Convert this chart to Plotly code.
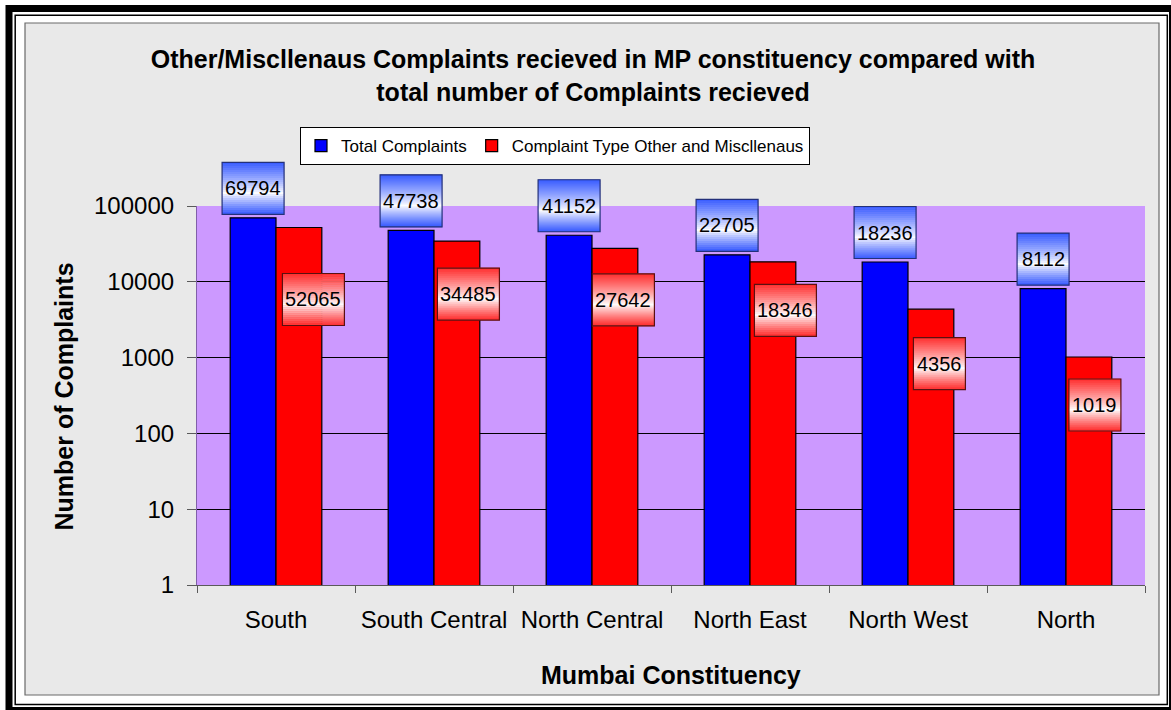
"""
Mumbai MP constituency complaints chart (log scale), Excel-style look.
"""
import math
import plotly.graph_objects as go

CATEGORIES = ["South", "South Central", "North Central", "North East", "North West", "North"]
TOTAL = [69794, 47738, 41152, 22705, 18236, 8112]
OTHER = [52065, 34485, 27642, 18346, 4356, 1019]
Y_TICKS = [1, 10, 100, 1000, 10000, 100000]
Y_RANGE = (0, 5)   # log10 decades

TITLE = ("<b>Other/Miscllenaus Complaints recieved in MP constituency compared with"
         "<br>total number of Complaints recieved</b>")
X_TITLE = "Mumbai Constituency"
Y_TITLE = "Number of Complaints"
NAMES = ["Total Complaints", "Complaint Type Other and Miscllenaus"]

# label nudges (px) for the red labels, as they were dragged in the original
RED_DX = [14.5, 11.5, 8.5, 12.5, 8.5, 6]
RED_DY = [72, 53, 51.5, 48.5, 54.5, 48]

BLUE = "#0000FF"
RED = "#FF0000"
PLOT_BG = "#CC99FF"
PAPER_TEX = "#E9E9E9"
FONT = "Liberation Sans, Arial, sans-serif"

W, H = 1171, 710
L, R, T, B = 197, 1145, 206, 585   # plot area in px


def px(x, y):
    return (x - L) / (R - L), (B - y) / (B - T)


def log_frac(v):
    return (math.log10(v) - Y_RANGE[0]) / (Y_RANGE[1] - Y_RANGE[0])


def mix(c, k):
    return "rgb(%d,%d,%d)" % tuple(round(255 + (v - 255) * k) for v in c)


def grad_box(shapes, xa, ya, x0, x1, y0, y1, base, border, mid=0.6, n=26):
    h = (y1 - y0) / n
    common = dict(type="rect", xref="x", yref="paper", xsizemode="pixel", ysizemode="pixel",
                  xanchor=xa, yanchor=ya, x0=x0, x1=x1)
    for i in range(n):
        t = (i + 0.5) / n
        k = (mid - t) / mid if t < mid else (t - mid) / (1 - mid)
        k = min(1.0, k ** 0.85)
        shapes.append(dict(common, y0=y1 - (i + 1) * h - 0.3, y1=y1 - i * h + 0.3,
                           fillcolor=mix(base, k), line_width=0))
    shapes.append(dict(common, y0=y0, y1=y1, fillcolor="rgba(0,0,0,0)",
                       line=dict(color=border, width=1.2)))


fig = go.Figure()
fig.add_trace(go.Bar(
    name=NAMES[0], x=CATEGORIES, y=TOTAL,
    marker=dict(color=BLUE, line=dict(color="black", width=1.2)),
))
fig.add_trace(go.Bar(
    name=NAMES[1], x=CATEGORIES, y=OTHER,
    marker=dict(color=RED, line=dict(color="black", width=1.2)),
))

shapes = []
# frame and textured panel (paper refs, drawn below everything)
x0, y0 = px(9, 8.5); x1, y1 = px(1172.5, 710.5)
shapes.append(dict(type="rect", xref="paper", yref="paper", x0=x0, y0=y0, x1=x1, y1=y1,
                   line=dict(color="black", width=7), layer="below"))
x0, y0 = px(15.2, 15.3); x1, y1 = px(1167.3, 704.5)
shapes.append(dict(type="rect", xref="paper", yref="paper", x0=x0, y0=y0, x1=x1, y1=y1,
                   line=dict(color="black", width=1.5), layer="below"))
x0, y0 = px(25, 23); x1, y1 = px(1159, 695)
shapes.append(dict(type="rect", xref="paper", yref="paper", x0=x0, y0=y0, x1=x1, y1=y1,
                   fillcolor=PAPER_TEX, line=dict(color="#6A6A6A", width=1.2), layer="below"))
shapes.append(dict(type="rect", xref="paper", yref="paper", x0=0, y0=0, x1=1, y1=1,
                   fillcolor=PLOT_BG, line_width=0, layer="below"))

annotations = []
half = 0.145
for i, (tot, oth) in enumerate(zip(TOTAL, OTHER)):
    for val, off, base, border, dx, dy in (
        (tot, -half, (55, 90, 255), "#23307A", 0, -29.5),
        (oth, half, (255, 45, 45), "#5A1010", RED_DX[i], RED_DY[i]),
    ):
        txt = str(val)
        w = 12 + 10 * len(txt)
        grad_box(shapes, i + off, log_frac(val), dx - w / 2, dx + w / 2, -dy - 26, -dy + 26,
                 base, border)
        annotations.append(dict(
            x=i + off, y=math.log10(val), xref="x", yref="y", text=txt, showarrow=False,
            xshift=dx, yshift=-dy, font=dict(size=20, color="black", family=FONT),
        ))

annotations.append(dict(
    text=f"<b>{Y_TITLE}</b>", textangle=-90, showarrow=False,
    xref="paper", yref="paper", x=px(63, 0)[0], y=px(0, 396.5)[1],
    xanchor="center", yanchor="middle",
    font=dict(size=25, color="black", family=FONT),
))
annotations.append(dict(
    text=f"<b>{X_TITLE}</b>", showarrow=False,
    xref="paper", yref="paper", x=px(670.5, 0)[0], y=px(0, 675)[1],
    xanchor="center", yanchor="middle",
    font=dict(size=25, color="black", family=FONT),
))

fig.update_layout(
    width=W, height=H,
    margin=dict(l=L, r=W - R, t=T, b=H - B, pad=0),
    paper_bgcolor="white", plot_bgcolor="rgba(0,0,0,0)",
    font=dict(family=FONT, color="black"),
    title=dict(text=TITLE, x=593 / W, xanchor="center", y=1 - 68 / H, yanchor="top",
               font=dict(size=25, color="black", family=FONT)),
    barmode="group", bargap=0.42, bargroupgap=0,
    showlegend=True,
    legend=dict(orientation="h", x=px(300, 0)[0], xanchor="left", y=px(0, 127)[1], yanchor="top",
                bgcolor="white", bordercolor="black", borderwidth=1,
                font=dict(size=17, color="black", family=FONT)),
    xaxis=dict(type="category", showgrid=False, showline=True, linecolor="#5A5A5A", linewidth=1.2,
               ticks="outside", tickson="boundaries", ticklen=7, tickcolor="#5A5A5A",
               tickfont=dict(size=24, color="black"), ticklabelstandoff=13),
    yaxis=dict(type="log", range=list(Y_RANGE), tickvals=Y_TICKS,
               ticktext=[str(v) for v in Y_TICKS],
               showgrid=True, gridcolor="black", gridwidth=1, zeroline=False,
               showline=True, linecolor="#8060A8", linewidth=1.2,
               ticks="outside", ticklen=9, tickcolor="#5A5A5A",
               tickfont=dict(size=24, color="black"), ticklabelstandoff=8),
    shapes=shapes, annotations=annotations,
)

fig.write_html("out.html", config={"displayModeBar": False},
               post_script="document.body.style.margin='0';")
